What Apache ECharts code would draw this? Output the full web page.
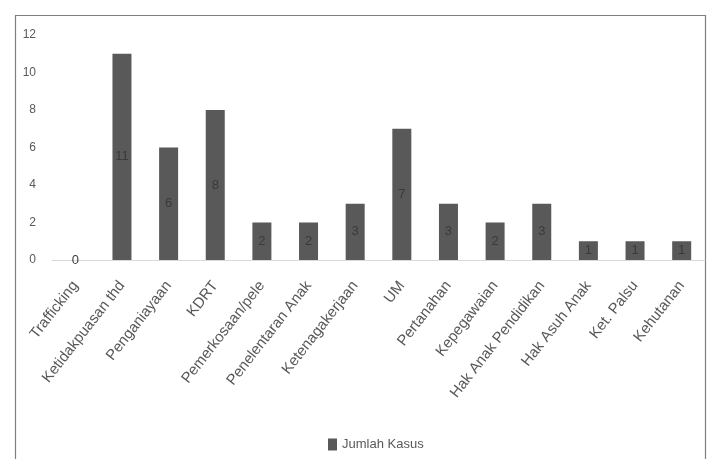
<!DOCTYPE html>
<html>
<head>
<meta charset="utf-8">
<script src="https://cdn.jsdelivr.net/npm/echarts@6/dist/echarts.min.js"></script>
<style>
html,body{margin:0;padding:0;background:#fff;}
#chart{width:711px;height:459px;}
</style>
</head>
<body>
<div id="chart"></div>
<script>
var categories = ["Trafficking","Ketidakpuasan thd","Penganiayaan","KDRT","Pemerkosaan/pele","Penelentaran Anak","Ketenagakerjaan","UM","Pertanahan","Kepegawaian","Hak Anak Pendidikan","Hak Asuh Anak","Ket. Palsu","Kehutanan"];
var jumlahKasus = [0,11,6,8,2,2,3,7,3,2,3,1,1,1];
var seriesName = "Jumlah Kasus";

var chart = echarts.init(document.getElementById('chart'));
chart.setOption({
  animation: false,
  backgroundColor: '#fff',
  textStyle: {fontFamily: 'Liberation Sans, sans-serif'},
  graphic: [{
    type: 'rect',
    shape: {x: 15.5, y: 15.5, width: 690, height: 460},
    style: {fill: 'none', stroke: '#7f7f7f', lineWidth: 1.2},
    silent: true
  }],
  legend: {
    bottom: 3,
    left: 323,
    itemWidth: 9,
    itemHeight: 12,
    icon: 'rect',
    itemGap: 4,
    textStyle: {color: '#595959', fontSize: 13},
    data: [seriesName]
  },
  grid: {left: 52, right: 6, top: 35, bottom: 199, containLabel: false},
  xAxis: {
    type: 'category',
    data: categories,
    axisLine: {show: true, lineStyle: {color: '#d9d9d9', width: 1}},
    axisTick: {show: false},
    axisLabel: {rotate: 52, color: '#595959', fontSize: 15, interval: 0, margin: 23}
  },
  yAxis: {
    type: 'value',
    min: 0, max: 12, interval: 2,
    splitLine: {show: false},
    axisLine: {show: false},
    axisTick: {show: false},
    axisLabel: {color: '#595959', fontSize: 12, margin: 16}
  },
  series: [{
    name: seriesName,
    type: 'bar',
    data: jumlahKasus,
    barWidth: 19,
    itemStyle: {color: '#595959'},
    label: {show: true, position: 'inside', color: '#3a3a3a', fontSize: 13}
  }]
});
</script>
</body>
</html>
